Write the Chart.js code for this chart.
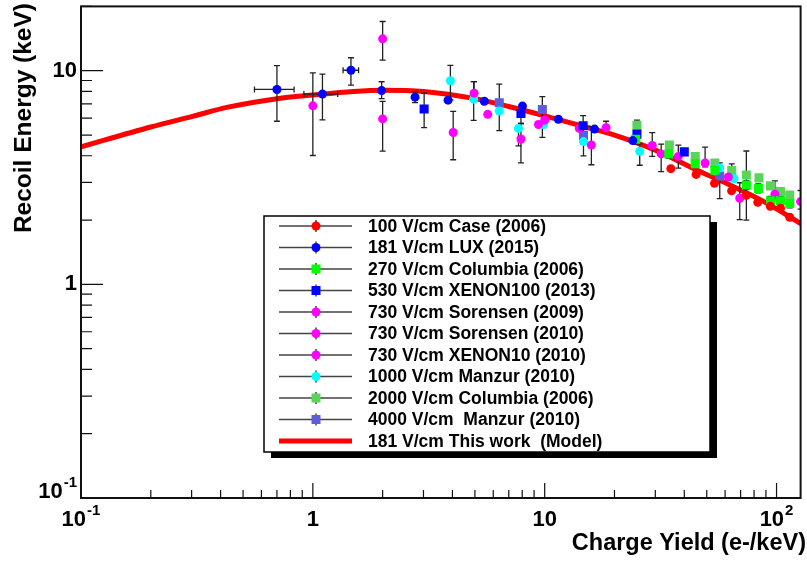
<!DOCTYPE html>
<html>
<head>
<meta charset="utf-8">
<script src="https://cdn.jsdelivr.net/npm/chart.js@4.4.1/dist/chart.umd.min.js"></script>
<style>
  html, body { margin: 0; padding: 0; background: #fff; }
</style>
</head>
<body>
<canvas id="chart" width="807" height="561"></canvas>
<script>
// axis ranges and tick labels
const xRange = [0.1, 127];
const yRange = [0.1, 20];
const xTickValues = [0.1, 1, 10, 100];
const xTickLabels = [["10", "-1"], ["1", ""], ["10", ""], ["10", "2"]];
const yTickValues = [0.1, 1, 10];
const yTickLabels = [["10", "-1"], ["1", ""], ["10", ""]];

const seriesLabels = [
  "100 V/cm Case (2006)",
  "181 V/cm LUX (2015)",
  "270 V/cm Columbia (2006)",
  "530 V/cm XENON100 (2013)",
  "730 V/cm Sorensen (2009)",
  "730 V/cm Sorensen (2010)",
  "730 V/cm XENON10 (2010)",
  "1000 V/cm Manzur (2010)",
  "2000 V/cm Columbia (2006)",
  "4000 V/cm  Manzur (2010)",
  "181 V/cm This work  (Model)"
];

// 100 V/cm Case (2006)
const caseX = [35, 45, 54, 64, 74, 83, 94, 104, 114];
const caseY = [3.48, 3.27, 2.97, 2.74, 2.61, 2.42, 2.32, 2.27, 2.06];
const caseLo = [null, null, null, null, null, null, null, null, null];
const caseHi = [null, null, null, null, null, null, null, null, null];

// 181 V/cm LUX (2015)
const luxX = [0.70, 1.10, 1.46, 1.98, 2.76, 3.83, 5.49, 8.02, 11.45, 16.4, 24.0];
const luxY = [8.17, 7.77, 10.05, 8.07, 7.52, 7.28, 7.20, 6.83, 5.93, 5.33, 4.71];
const luxLo = [5.80, 5.89, 8.57, 7.40, 7.09, null, null, null, null, null, null];
const luxHi = [10.57, 9.63, 11.5, 8.88, 7.94, null, null, null, null, null, null];
const luxXLo = [0.56, 0.915, 1.35, null, null, null, null, null, null, null, null];
const luxXHi = [0.83, 1.28, 1.575, null, null, null, null, null, null, null, null];

// 270 V/cm Columbia (2006)
const col270X = [24.7, 34.3, 44.6, 54.2, 74.1, 83.5, 94.2, 104, 114];
const col270Y = [4.78, 4.08, 3.67, 3.42, 2.92, 2.81, 2.46, 2.46, 2.39];
const col270Lo = [4.55, 3.9, null, null, 2.78, 2.68, 2.36, 2.35, 2.28];
const col270Hi = [5.0, 4.25, null, null, 3.06, 2.95, 2.58, 2.58, 2.5];

// 530 V/cm XENON100 (2013)
const x100X = [3.02, 7.90, 14.65, 25.0, 40.0];
const x100Y = [6.62, 6.30, 5.52, 5.05, 4.17];
const x100Lo = [5.42, 5.66, 5.0, null, null];
const x100Hi = [7.85, 6.77, 6.16, null, null];

// 730 V/cm Sorensen (2009)
const sor09X = [1.0, 2.0, 2.0, 4.03];
const sor09Y = [6.85, 14.1, 5.95, 5.14];
const sor09Lo = [4.01, 11.2, 4.20, 3.83];
const sor09Hi = [9.77, 17.0, 7.18, 6.45];

// 730 V/cm Sorensen (2010)
const sor10X = [4.96, 5.68, 7.90, 9.40, 10.0, 14.1, 15.9, 18.4];
const sor10Y = [7.85, 6.25, 4.79, 5.60, 5.87, 5.37, 4.49, 5.41];
const sor10Lo = [null, null, 3.70, null, null, null, 3.63, null];
const sor10Hi = [8.9, null, 5.66, null, null, null, 5.47, 5.80];

// 730 V/cm XENON10 (2010)
const xe10X = [29.1, 31.8, 37.7, 49.2, 62.0, 69.4, 98.4, 127];
const xe10Y = [4.47, 4.08, 3.97, 3.70, 3.18, 2.53, 2.64, 2.44];
const xe10Lo = [3.97, 3.37, 3.50, 3.55, null, 2.01, 2.52, 2.25];
const xe10Hi = [5.13, 4.53, 4.48, 4.39, null, 2.99, 3.05, 2.75];

// 1000 V/cm Manzur (2010)
const man1kX = [3.92, 4.94, 6.37, 7.71, 9.90, 14.7, 25.7, 56.9, 65.6];
const man1kY = [8.97, 7.36, 6.48, 5.37, 5.60, 4.66, 4.20, 3.50, 3.12];
const man1kLo = [7.3, 5.86, null, 4.45, null, null, 3.61, null, null];
const man1kHi = [10.6, 8.9, null, null, null, null, 4.55, null, null];

// 2000 V/cm Columbia (2006)
const col2kX = [25.0, 34.5, 44.6, 54.2, 64.1, 74.1, 84.0, 94.2, 104, 114];
const col2kY = [5.56, 4.49, 3.97, 3.70, 3.41, 3.25, 3.15, 2.89, 2.72, 2.62];
const col2kLo = [null, null, null, null, 3.2, 2.0, null, null, null, null];
const col2kHi = [5.87, null, null, null, 3.66, 4.21, null, null, null, null];

// 4000 V/cm Manzur (2010)
const man4kX = [6.37, 9.77, 14.7, 56.9];
const man4kY = [7.08, 6.59, 4.97, 3.21];
const man4kLo = [5.24, 4.88, 3.99, 2.52];
const man4kHi = [8.66, 7.57, 5.47, 3.70];

// 181 V/cm model curve
const modelX = [0.1, 0.2, 0.3, 0.43, 0.7, 1, 1.5, 2, 3, 5, 7, 10, 15, 20, 30, 45, 62, 87, 128];
const modelY = [4.4, 5.45, 6.1, 6.75, 7.4, 7.7, 8.0, 8.1, 8.0, 7.4, 6.8, 6.15, 5.45, 5.0, 4.25, 3.44, 2.94, 2.46, 1.92];

const FONT = "'Liberation Sans', Arial, Helvetica, sans-serif";

function series(label, xs, ys, lo, hi, color, style, xlo, xhi) {
  return {
    label: label,
    data: xs.map((x, i) => ({ x: x, y: ys[i] })),
    errLo: lo, errHi: hi, errXLo: xlo || null, errXHi: xhi || null,
    backgroundColor: color,
    borderColor: color,
    pointStyle: style,
    pointRadius: style === "rect" ? 6.4 : 4.5,
    pointBorderWidth: 0,
    showLine: false,
    order: 0
  };
}

const datasets = [
  series(seriesLabels[0], caseX, caseY, caseLo, caseHi, "#ff0000", "circle"),
  series(seriesLabels[1], luxX, luxY, luxLo, luxHi, "#0000ff", "circle", luxXLo, luxXHi),
  series(seriesLabels[2], col270X, col270Y, col270Lo, col270Hi, "#00ff00", "rect"),
  series(seriesLabels[3], x100X, x100Y, x100Lo, x100Hi, "#0000ff", "rect"),
  series(seriesLabels[4], sor09X, sor09Y, sor09Lo, sor09Hi, "#ff00ff", "circle"),
  series(seriesLabels[5], sor10X, sor10Y, sor10Lo, sor10Hi, "#ff00ff", "circle"),
  series(seriesLabels[6], xe10X, xe10Y, xe10Lo, xe10Hi, "#ff00ff", "circle"),
  series(seriesLabels[7], man1kX, man1kY, man1kLo, man1kHi, "#00ffff", "circle"),
  series(seriesLabels[8], col2kX, col2kY, col2kLo, col2kHi, "#5ad45a", "rect"),
  series(seriesLabels[9], man4kX, man4kY, man4kLo, man4kHi, "#5c5cdc", "rect"),
  {
    label: seriesLabels[10],
    data: modelX.map((x, i) => ({ x: x, y: modelY[i] })),
    borderColor: "#ff0000",
    backgroundColor: "#ff0000",
    borderWidth: 5,
    pointRadius: 0,
    showLine: true,
    cubicInterpolationMode: "monotone",
    order: 1
  }
];
const MODEL = datasets.length - 1;

// error bars, drawn right after the model line so markers sit on top
const errorBars = {
  id: "errorBars",
  afterDatasetDraw(chart, args) {
    if (args.index !== MODEL) return;
    const ctx = chart.ctx, xs = chart.scales.x, ys = chart.scales.y, a = chart.chartArea;
    ctx.save();
    ctx.beginPath();
    ctx.rect(a.left, a.top, a.right - a.left, a.bottom - a.top);
    ctx.clip();
    ctx.strokeStyle = "#222";
    ctx.lineWidth = 1.3;
    const cap = 3;
    chart.data.datasets.forEach(ds => {
      if (!ds.errLo) return;
      ds.data.forEach((p, i) => {
        const px = xs.getPixelForValue(p.x), py = ys.getPixelForValue(p.y);
        const lo = ds.errLo[i], hi = ds.errHi[i];
        ctx.beginPath();
        if (lo != null) {
          const yl = ys.getPixelForValue(lo);
          ctx.moveTo(px, py); ctx.lineTo(px, yl);
          ctx.moveTo(px - cap, yl); ctx.lineTo(px + cap, yl);
        }
        if (hi != null) {
          const yh = ys.getPixelForValue(hi);
          ctx.moveTo(px, py); ctx.lineTo(px, yh);
          ctx.moveTo(px - cap, yh); ctx.lineTo(px + cap, yh);
        }
        if (ds.errXLo && ds.errXLo[i] != null) {
          const xl = xs.getPixelForValue(ds.errXLo[i]), xh = xs.getPixelForValue(ds.errXHi[i]);
          ctx.moveTo(xl, py); ctx.lineTo(xh, py);
          ctx.moveTo(xl, py - cap); ctx.lineTo(xl, py + cap);
          ctx.moveTo(xh, py - cap); ctx.lineTo(xh, py + cap);
        }
        ctx.stroke();
      });
    });
    ctx.restore();
  }
};

function drawPower(ctx, base, exp, x, y, align) {
  ctx.font = "bold 22px " + FONT;
  const wb = ctx.measureText(base).width;
  ctx.font = "bold 15px " + FONT;
  const we = exp ? ctx.measureText(exp).width + 1 : 0;
  const w = wb + we;
  let left = align === "right" ? x - w : x - w / 2;
  ctx.textAlign = "left";
  ctx.textBaseline = "middle";
  ctx.font = "bold 22px " + FONT;
  ctx.fillText(base, left, y);
  if (exp) {
    ctx.font = "bold 15px " + FONT;
    ctx.fillText(exp, left + wb + 1, y - 9);
  }
}

// ROOT-like frame, inward ticks, labels and titles
const frame = {
  id: "frame",
  afterDraw(chart) {
    const ctx = chart.ctx, xs = chart.scales.x, ys = chart.scales.y, a = chart.chartArea;
    ctx.save();
    ctx.strokeStyle = "#111";
    ctx.lineWidth = 2;
    ctx.strokeRect(a.left, a.top, a.right - a.left, a.bottom - a.top);
    ctx.lineWidth = 1.2;
    ctx.beginPath();
    [0.1, 1, 10, 100].forEach(d => {
      for (let m = 1; m <= 9; m++) {
        const v = d * m;
        if (v > xRange[1]) break;
        const px = xs.getPixelForValue(v);
        ctx.moveTo(px, a.bottom);
        ctx.lineTo(px, a.bottom - (m === 1 ? 15 : 8));
      }
    });
    [0.1, 1, 10].forEach(d => {
      for (let m = 1; m <= 9; m++) {
        const v = d * m;
        if (v > yRange[1]) break;
        const py = ys.getPixelForValue(v);
        ctx.moveTo(a.left, py);
        ctx.lineTo(a.left + (m === 1 ? 22 : 11), py);
      }
    });
    ctx.stroke();

    ctx.fillStyle = "#000";
    xTickValues.forEach((v, i) => {
      drawPower(ctx, xTickLabels[i][0], xTickLabels[i][1], xs.getPixelForValue(v), 520, "center");
    });
    yTickValues.forEach((v, i) => {
      const py = ys.getPixelForValue(v);
      drawPower(ctx, yTickLabels[i][0], yTickLabels[i][1], 77, v === 0.1 ? py - 6 : py, "right");
    });

    ctx.textAlign = "right";
    ctx.textBaseline = "middle";
    ctx.font = "bold 23.5px " + FONT;
    ctx.fillText("Charge Yield (e-/keV)", 806, 544);
    ctx.font = "bold 24.5px " + FONT;
    ctx.translate(24, 3);
    ctx.rotate(-Math.PI / 2);
    ctx.fillText("Recoil Energy (keV)", 0, 0);
    ctx.restore();
  }
};

// boxed legend with shadow
const legendBox = {
  id: "legendBox",
  afterDraw(chart) {
    const ctx = chart.ctx;
    const bx = 264, by = 216, bw = 446, bh = 236;
    ctx.save();
    ctx.fillStyle = "#000";
    ctx.fillRect(bx + 7, by + 6, bw, bh);
    ctx.fillStyle = "#fff";
    ctx.fillRect(bx, by, bw, bh);
    ctx.strokeStyle = "#000";
    ctx.lineWidth = 1.5;
    ctx.strokeRect(bx, by, bw, bh);
    const rowH = 21.5;
    chart.data.datasets.forEach((ds, i) => {
      const y = by + 10 + rowH * i;
      if (i === MODEL) {
        ctx.strokeStyle = ds.borderColor;
        ctx.lineWidth = 5;
        ctx.beginPath(); ctx.moveTo(279, y); ctx.lineTo(352, y); ctx.stroke();
      } else {
        ctx.strokeStyle = "#444";
        ctx.lineWidth = 1.5;
        ctx.beginPath();
        ctx.moveTo(279, y); ctx.lineTo(352, y);
        ctx.moveTo(316, y - 6); ctx.lineTo(316, y + 6);
        ctx.stroke();
        ctx.fillStyle = ds.backgroundColor;
        if (ds.pointStyle === "rect") {
          ctx.fillRect(316 - 4.5, y - 4.5, 9, 9);
        } else {
          ctx.beginPath(); ctx.arc(316, y, 4.5, 0, Math.PI * 2); ctx.fill();
        }
      }
      ctx.fillStyle = "#000";
      ctx.font = "bold 17.5px " + FONT;
      ctx.textAlign = "left";
      ctx.textBaseline = "middle";
      ctx.fillText(ds.label, 368, y + 1);
    });
    ctx.restore();
  }
};

new Chart(document.getElementById("chart"), {
  type: "scatter",
  data: { datasets: datasets },
  options: {
    responsive: false,
    animation: false,
    devicePixelRatio: 1,
    layout: { padding: { left: 81, right: 3, top: 2, bottom: 63 } },
    plugins: { legend: { display: false }, tooltip: { enabled: false } },
    scales: {
      x: { type: "logarithmic", min: xRange[0], max: xRange[1], display: false },
      y: { type: "logarithmic", min: yRange[0], max: yRange[1], display: false }
    }
  },
  plugins: [errorBars, frame, legendBox]
});
</script>
</body>
</html>
